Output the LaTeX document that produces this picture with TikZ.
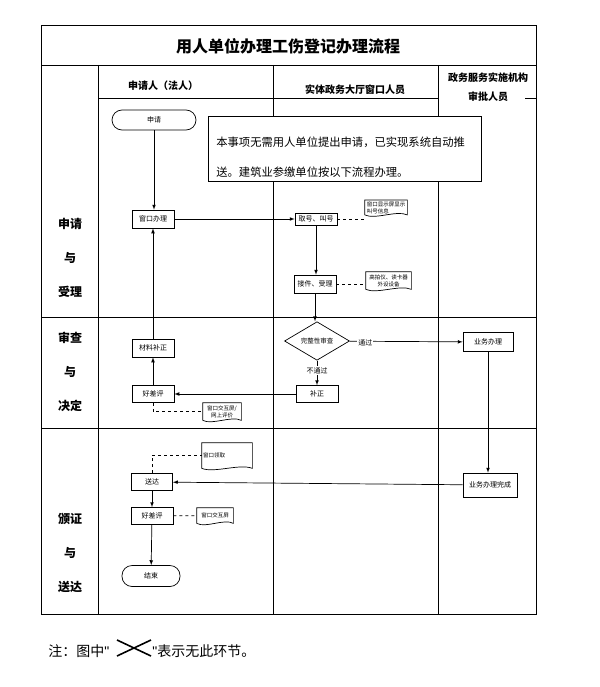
\documentclass[tikz,border=0pt]{standalone}
\usepackage{fontspec}
\setmainfont{Noto Sans CJK SC}
\newfontfamily\latinfont{Liberation Sans}
\usepackage{tikz}
\usetikzlibrary{calc,arrows,shapes.geometric}

\newcommand{\docwave}[1]{\draw (#1.south west) -- (#1.north west) -- (#1.north east) -- (#1.south east)
  .. controls ($(#1.south)!0.5!(#1.south east)+(0,-5)$) and ($(#1.south)!0.5!(#1.south west)+(0,5)$) .. (#1.south west);}

\begin{document}
\begin{tikzpicture}[x=1pt, y=-1pt, line width=0.7pt, >=latex,
  proc/.style={draw, rectangle, inner sep=1pt, minimum width=42, minimum height=18, font=\fontsize{7}{8}\selectfont},
  term/.style={draw, rectangle, rounded corners=10, inner sep=1pt, font=\fontsize{7}{8}\selectfont},
  decide/.style={draw, diamond, inner sep=0pt, minimum width=65, minimum height=30, font=\fontsize{6.5}{8}\selectfont},
  doc/.style={inner sep=1pt, font=\fontsize{5.5}{7}\selectfont, align=center},
  stage/.style={font=\fontsize{12}{34}\selectfont\bfseries, align=center},
  head/.style={font=\fontsize{10}{19}\selectfont\bfseries, align=center},
  lbl/.style={fill=white, inner sep=1pt, font=\fontsize{7}{8}\selectfont}]
  \useasboundingbox (0,0) rectangle (599,687);
  % table
  \draw (41,25) rectangle (536,614);
  \draw (41,65) -- (536,65);
  \draw (98,98) -- (438,98);
  \draw (525,98) -- (536,98);
  \draw (98,65) -- (98,614);
  \draw (273,65) -- (273,614);
  \draw (438,65) -- (438,614);
  \draw (41,317) -- (536,317);
  \draw (41,428) -- (536,428);
  \node[font=\fontsize{16}{18}\selectfont\bfseries] (title) at (288,46) {用人单位办理工伤登记办理流程};
  \node[head] (h1) at (163,86) {申请人（法人）};
  \node[head] (h2) at (355,90) {实体政务大厅窗口人员};
  \node[head] (h3) at (488,87.5) {政务服务实施机构\\审批人员};
  \node[stage] (s1) at (70,258) {申请\\与\\受理};
  \node[stage] (s2) at (70,372) {审查\\与\\决定};
  \node[stage] (s3) at (70,553) {颁证\\与\\送达};
  % steps
  \node[term, minimum width=84, minimum height=20] (apply) at (154,120) {申请};
  \node[draw, fill=white, minimum width=273, minimum height=65] (note) at (344.5,148.5) {};
  \node[anchor=west, inner sep=0pt, align=left, font=\fontsize{11.3}{30}\selectfont] (notetext) at (216,157)
    {本事项无需用人单位提出申请，已实现系统自动推\\送。建筑业参缴单位按以下流程办理。};
  \node[proc] (win) at (153,219) {窗口办理};
  \node[proc, minimum height=12] (call) at (316,219) {取号、叫号};
  \node[doc, align=left, minimum width=42, minimum height=13] (callinfo) at (386,207.5) {窗口显示屏显示\\叫号信息};
  \node[proc] (accept) at (315,284) {接件、受理};
  \node[doc, minimum width=45, minimum height=17] (device) at (388.5,280.5) {高拍仪、读卡器\\外设设备};
  \node[decide] (check) at (317,341) {完整性审查};
  \node[proc, minimum width=50, minimum height=19] (work) at (488,342) {业务办理};
  \node[proc, minimum height=17] (fix) at (317,394) {补正};
  \node[proc, minimum height=17] (eval1) at (153,394) {好差评};
  \node[proc] (supp) at (153,348) {材料补正};
  \node[doc, minimum width=38, minimum height=17] (evaldoc1) at (222,411.5) {窗口交互屏/\\网上评价};
  \node[proc, minimum width=54, minimum height=24] (done) at (490,485) {业务办理完成};
  \node[proc, minimum width=41, minimum height=17] (send) at (152,482) {送达};
  \node[doc, text width=48, align=left, minimum height=25] (takedoc) at (227,455.5) {窗口领取};
  \node[proc, minimum height=17] (eval2) at (152,516) {好差评};
  \node[doc, minimum width=36, minimum height=15] (evaldoc2) at (215,515.5) {窗口交互屏};
  \node[term, minimum width=58, minimum height=21] (end) at (151,576) {结束};
  \docwave{callinfo}
  \docwave{device}
  \docwave{evaldoc1}
  \docwave{takedoc}
  \docwave{evaldoc2}
  % flow
  \draw[->] (apply.south) -- (apply.south |- win.north);
  \draw[->] (win) -- (call);
  \draw[dashed] (call.east) -- (call.east -| callinfo.west);
  \draw[->] (call.south) -- (call.south |- accept.north);
  \draw[dashed] (accept.east) -- (accept.east -| device.west);
  \draw[->] (accept.south) -- (accept.south |- check.north);
  \draw[->] (check) -- node[lbl, pos=0.14, yshift=-2] {通过} (work);
  \draw[->] (check.south) -- node[lbl, pos=0.4] {不通过} (check.south |- fix.north);
  \draw[->] (fix) -- (eval1);
  \draw[->] (eval1) -- (supp);
  \draw[->] (supp) -- (win);
  \draw[dashed] (eval1.south) |- (evaldoc1.west);
  \draw[->] (work.south) -- (work.south |- done.north);
  \draw[->] (done) -- (send);
  \draw[dashed] (send.north) |- (takedoc.west);
  \draw[->] (send) -- (eval2);
  \draw[dashed] (eval2) -- (evaldoc2);
  \draw[->] (eval2) -- (end);
  % note
  \node[anchor=west, inner sep=0pt, font=\fontsize{14}{16}\selectfont] (foot1) at (48,651) {注：图中{\latinfont\char"22}};
  \node[anchor=west, inner sep=0pt, font=\fontsize{14}{16}\selectfont] (foot2) at (152,651) {{\latinfont\char"22}表示无此环节。};
  \draw[line width=1.6pt] (117,640) -- (151,656);
  \draw[line width=1.6pt] (117,656) -- (151,640);
\end{tikzpicture}
\end{document}
